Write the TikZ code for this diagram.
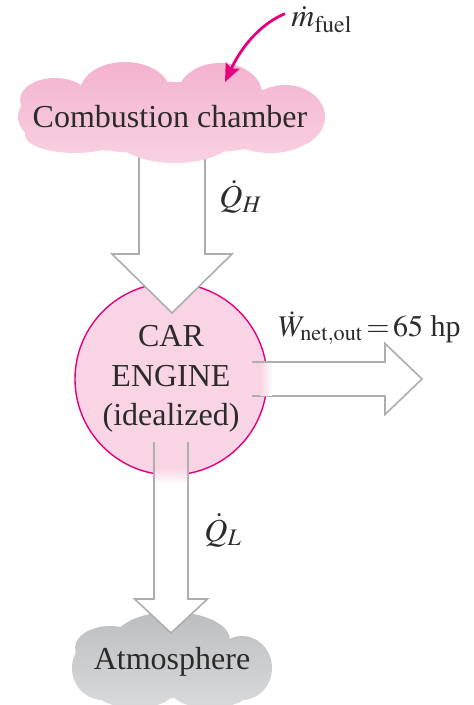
\documentclass[tikz,border=0pt]{standalone}
\usepackage{mathptmx}
\usepackage{fontspec}
\setmainfont{Liberation Serif}
\usepackage{tikz}
\usetikzlibrary{positioning, arrows.meta, calc}
\definecolor{rose}{HTML}{F3B0CD}
\definecolor{blush}{HTML}{F9D4E4}
\definecolor{fuchsia}{HTML}{E6007E}
\definecolor{smoke}{HTML}{BBBCBE}
\definecolor{mist}{HTML}{D9DADC}
\definecolor{rim}{HTML}{AEAEAE}
\definecolor{ink}{HTML}{2B2B2B}

\begin{document}
\begin{tikzpicture}[x=0.5pt, y=-0.5pt,
      cloudtext/.style={text=ink, font=\fontsize{16}{19.75}\selectfont, inner sep=0pt},
      engine/.style={circle, draw=fuchsia, line width=0.7pt, fill=blush,
        text=ink, align=center, font=\fontsize{16}{19.75}\selectfont,
        minimum size=96pt, inner sep=0pt},
      flowlabel/.style={text=ink, font=\fontsize{16}{19.75}\selectfont,
        inner sep=0pt, anchor=base west},
      hollow/.style={draw=rim, line width=0.8pt, fill=white, line join=miter},
      fuelarrow/.style={-{Stealth[length=9pt, width=7.5pt, inset=1.5pt]},
        fuchsia, line width=1.4pt}]
    \useasboundingbox (0,0) rectangle (473,705);
    % atmosphere cloud
    \begin{scope}
      \clip (172,668) ellipse [x radius=98, y radius=30]
            (172,640) ellipse [x radius=58, y radius=28]
            (103,668) ellipse [x radius=31, y radius=32]
            (242,668) ellipse [x radius=30, y radius=32]
            (110,648) ellipse [x radius=35, y radius=22]
            (135,690) ellipse [x radius=40, y radius=18]
            (210,690) ellipse [x radius=40, y radius=18];
      \shade[top color=smoke, bottom color=mist] (60,605) rectangle (290,710);
    \end{scope}
    \node[cloudtext] (atmo) at (172,662) {Atmosphere};
    % engine
    \node[engine] (engine) at (171,379) {CAR\\ENGINE\\(idealized)};
    \coordinate (qhin) at (172,150);
    \coordinate (qhtip) at (172,313);
    \coordinate (wtail) at (252,379);
    \coordinate (wtip) at (422,379);
    \coordinate (qlin) at (171,442);
    \coordinate (qltip) at (171,633);
    % heat in
    \draw[hollow] ($(qhin)+(-33,0)$) -- ($(qhtip)+(-33,-59)$) -- ($(qhtip)+(-60,-59)$)
      -- (qhtip) -- ($(qhtip)+(60,-59)$) -- ($(qhtip)+(33,-59)$) -- ($(qhin)+(33,0)$);
    % work out
    \draw[hollow] ($(wtail)+(0,-17)$) -- ($(wtip)+(-37,-17)$) -- ($(wtip)+(-37,-35.5)$)
      -- (wtip) -- ($(wtip)+(-37,35.5)$) -- ($(wtip)+(-37,17)$) -- ($(wtail)+(0,17)$);
    \fill[blush] ($(wtail)+(0,-16)$) rectangle ($(wtail)+(8,16)$);
    \shade[left color=blush, right color=white] ($(wtail)+(8,-16)$) rectangle ($(wtail)+(20,16)$);
    % heat out
    \draw[hollow] ($(qlin)+(-17,0)$) -- ($(qltip)+(-17,-34)$) -- ($(qltip)+(-36.5,-34)$)
      -- (qltip) -- ($(qltip)+(36.5,-34)$) -- ($(qltip)+(17,-34)$) -- ($(qlin)+(17,0)$);
    \fill[blush] ($(qlin)+(-16,0)$) rectangle ($(qlin)+(16,26)$);
    \shade[top color=blush, bottom color=white] ($(qlin)+(-16,26)$) rectangle ($(qlin)+(16,42)$);
    % combustion chamber cloud
    \begin{scope}
      \clip (170,118) ellipse [x radius=150, y radius=36]
            (125,92) ellipse [x radius=45, y radius=30]
            (220,94) ellipse [x radius=42, y radius=31]
            (60,117) ellipse [x radius=42, y radius=28]
            (55,100) ellipse [x radius=35, y radius=22]
            (285,117) ellipse [x radius=40, y radius=32]
            (175,138) ellipse [x radius=58, y radius=25]
            (75,135) ellipse [x radius=50, y radius=18]
            (270,135) ellipse [x radius=40, y radius=18];
      \shade[top color=rose, bottom color=blush] (10,55) rectangle (335,170);
    \end{scope}
    \node[cloudtext] (chamber) at (170,117) {Combustion chamber};
    % labels
    \node[flowlabel] (fuel) at (291,27) {$\dot m_{\mathrm{fuel}}$};
    \node[flowlabel] (qh) at (219,208) {$\dot Q_H$};
    \node[flowlabel, font=\fontsize{15}{18}\selectfont] (wnet) at (278,336)
      {$\thickmuskip=2mu \dot W_{\mathrm{net{,}out}} = 65$ hp};
    \node[flowlabel] (ql) at (204,541) {$\dot Q_L$};
    \coordinate (fuelin) at (225,82);
    \draw[fuelarrow] ($(fuel.west)+(-6,-6)$) .. controls (258,25) and (240,50) .. (fuelin);
  \end{tikzpicture}
\end{document}
